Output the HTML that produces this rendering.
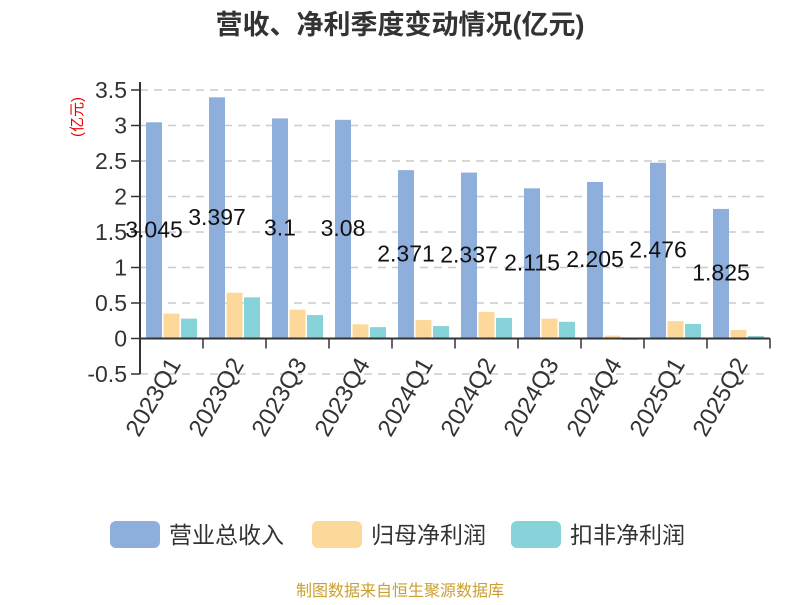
<!DOCTYPE html>
<html><head><meta charset="utf-8"><style>
body{margin:0;background:#fff}
svg text{font-family:"Liberation Sans","Noto Sans CJK SC",sans-serif}
</style></head><body>
<svg id="c" width="800" height="600" xmlns="http://www.w3.org/2000/svg">
<text x="400" y="34" text-anchor="middle" font-size="27" font-weight="bold" fill="#333">营收、净利季度变动情况(亿元)</text>
<text transform="translate(82,117) rotate(-90)" text-anchor="middle" font-size="15" fill="#e00">(亿元)</text>
<g id="grid"></g><g id="bars"></g><g id="axes"></g><g id="labels"></g>
<g>
<rect x="110" y="521" width="50" height="27" rx="6" fill="#8eaedc"/>
<text x="169" y="543" font-size="23" fill="#333">营业总收入</text>
<rect x="312" y="521" width="50" height="27" rx="6" fill="#fdd89b"/>
<text x="371" y="543" font-size="23" fill="#333">归母净利润</text>
<rect x="511" y="521" width="50" height="27" rx="6" fill="#86d3d9"/>
<text x="570" y="543" font-size="23" fill="#333">扣非净利润</text>
</g>
<text x="400" y="596" text-anchor="middle" font-size="16" fill="#c9a030">制图数据来自恒生聚源数据库</text>
</svg>
<script>
const categories=["2023Q1","2023Q2","2023Q3","2023Q4","2024Q1","2024Q2","2024Q3","2024Q4","2025Q1","2025Q2"];
const revenue=[3.045,3.397,3.1,3.08,2.371,2.337,2.115,2.205,2.476,1.825];
const netProfit=[0.35,0.645,0.405,0.2,0.26,0.375,0.28,0.04,0.245,0.12];
const deductedProfit=[0.28,0.58,0.33,0.16,0.175,0.29,0.235,-0.02,0.205,0.035];
const yTicks=[-0.5,0,0.5,1,1.5,2,2.5,3,3.5];
const NS="http://www.w3.org/2000/svg";
const x0=140,x1=770,cw=(x1-x0)/categories.length;
const y=v=>338.5-v*71;
function mk(t,a,p){const e=document.createElementNS(NS,t);for(const k in a)e.setAttribute(k,a[k]);document.getElementById(p).appendChild(e);return e;}
yTicks.forEach(v=>{
 if(v!==0){const g=mk('line',{x1:x0,x2:x1,y1:y(v),y2:y(v),stroke:'#ccc','stroke-dasharray':'8,6','stroke-width':1.5},'grid');
 }
 const t=mk('line',{x1:x0-9,x2:x0,y1:y(v),y2:y(v),stroke:'#333','stroke-width':1.5},'axes');
 
 const l=mk('text',{x:x0-13,y:y(v)+8,'text-anchor':'end','font-size':23,fill:'#333'},'axes');
 l.textContent=v;
});
const bw=16,gap=1.5,off=6;
const series=[[revenue,'#8eaedc','bar-revenue'],[netProfit,'#fdd89b','bar-net-profit'],[deductedProfit,'#86d3d9','bar-deducted-profit']];
categories.forEach((c,i)=>{
 const gx=x0+i*cw+off;
 series.forEach((s,j)=>{
  const v=s[0][i],bx=gx+j*(bw+gap);
  const r=mk('rect',{x:bx,y:Math.min(y(v),y(0)),width:bw,height:Math.abs(y(v)-y(0)),fill:s[1]},'bars');
  
 });
 const lt=mk('text',{x:gx+bw/2,y:(y(revenue[i])+y(0))/2+7,'text-anchor':'middle','font-size':23,fill:'#111'},'labels');
 lt.textContent=revenue[i];
 const tk=mk('line',{x1:x0+(i+1)*cw,x2:x0+(i+1)*cw,y1:y(0),y2:y(0)+10,stroke:'#333','stroke-width':1.5},'axes');
 
 const cx=x0+i*cw+cw/2+10;
 const xl=mk('text',{transform:`translate(${cx},364) rotate(-60)`,'text-anchor':'end','font-size':24,fill:'#333'},'axes');
 xl.textContent=c;
});
const xa=mk('line',{x1:x0,x2:x1,y1:y(0),y2:y(0),stroke:'#333','stroke-width':2},'axes');

const ya=mk('line',{x1:x0,x2:x0,y1:y(3.5)-8,y2:y(-0.5),stroke:'#333','stroke-width':2},'axes');

</script>
</body></html>
